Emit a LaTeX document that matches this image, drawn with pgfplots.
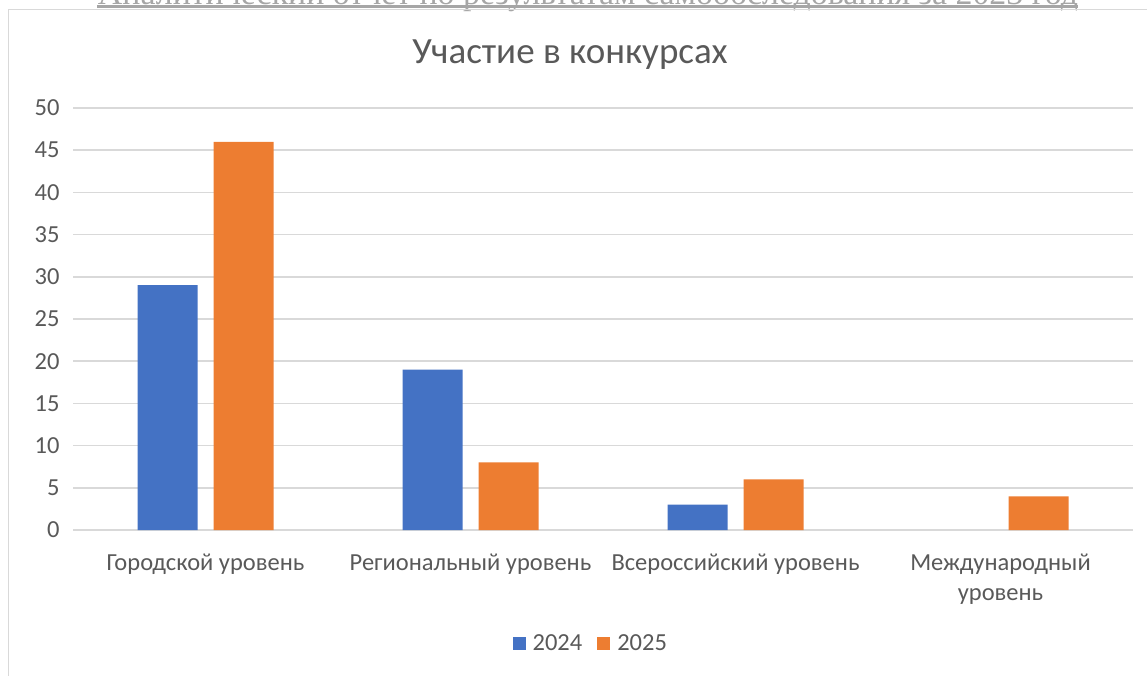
\documentclass[border=0pt]{standalone}
\usepackage{fontspec}
\setmainfont{Carlito}
\newfontfamily\seriffont{Liberation Serif}
\usepackage{pgfplots}
\pgfplotsset{compat=1.18}
\definecolor{txt}{HTML}{595959}
\definecolor{gridc}{HTML}{D9D9D9}
\definecolor{cblue}{HTML}{4472C4}
\definecolor{corange}{HTML}{ED7D31}
\definecolor{hdr}{HTML}{A6A6A6}
\begin{document}
\begin{tikzpicture}[x=1pt,y=1pt]
\useasboundingbox (0,0) rectangle (1147,-675);
\clip (0,0) rectangle (1147,-675);
% header of the page, mostly cut off
\node[anchor=base, inner sep=0pt, text=hdr] at (588,-4) {\resizebox{980pt}{!}{\seriffont\fontsize{30}{34}\selectfont Аналитический отчет по результатам самообследования за 2023 год}};
\fill[hdr] (97,-5) rectangle (1078,-8);
% chart frame
\draw[gridc, line width=1.5pt] (8.5,-680) -- (8.5,-9.5) -- (1160,-9.5);
% title
\node[text=txt, inner sep=0pt] at (570,-55) {\fontsize{37}{42}\selectfont Участие в конкурсах};
\begin{axis}[
  at={(73pt,-530pt)}, anchor=south west,
  scale only axis, width=1060pt, height=422pt,
  ymin=0, ymax=50, ytick={0,5,...,50},
  xmin=-0.5, xmax=3.5,
  xtick={0,1,2,3},
  xticklabels={Городской уровень, Региональный уровень, Всероссийский уровень, Международный\\уровень},
  axis line style={draw=none},
  major tick length=0pt,
  ymajorgrids, xmajorgrids=false, grid style={draw=gridc, line width=1.5pt},
  tick label style={text=txt, font=\fontsize{24.5}{30}\selectfont},
  xticklabel style={align=center, yshift=-20pt},
  yticklabel style={xshift=-10pt},
  /pgf/number format/assume math mode=true,
  ybar, bar width=60pt,
  legend style={at={(0.4885,-0.268)}, anchor=center, draw=none, fill=none,
    legend columns=2, font=\fontsize{24.5}{28}\selectfont, text=txt,
    /tikz/every even column/.append style={column sep=13pt}},
  legend image code/.code={\fill[#1] (0pt,-6.5pt) rectangle (13pt,6.5pt); \path (18pt,0pt);},
]
\addplot[fill=cblue, draw=none, bar shift=-38pt] coordinates {(0,29) (1,19) (2,3)};
\addplot[fill=corange, draw=none, bar shift=38pt] coordinates {(0,46) (1,8) (2,6) (3,4)};
\legend{2024, 2025}
\end{axis}
\end{tikzpicture}
\end{document}
